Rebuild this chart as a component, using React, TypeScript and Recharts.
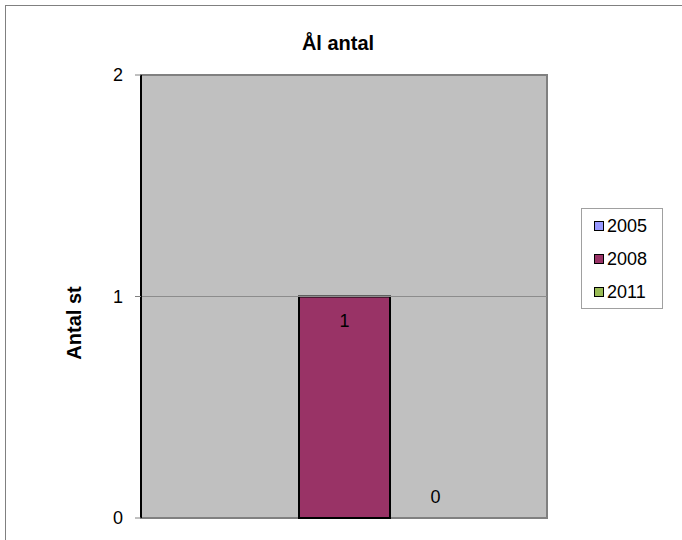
import React from 'react';
import { BarChart, Bar, XAxis, YAxis, ReferenceArea, ReferenceLine, LabelList, Cell } from 'recharts';

const categories = ['Ål'];
const seriesNames = ['2005', '2008', '2011'];
const values2005: (number | null)[] = [null];
const values2008: (number | null)[] = [1];
const values2011: (number | null)[] = [0];
const yTicks = [0, 1, 2];
const seriesColors = ['#9999FF', '#993366', '#99BB55'];
const titleText = 'Ål antal';
const yLabelText = 'Antal st';

const seriesValues = [values2005, values2008, values2011];
const data = categories.map((c, i) => {
  const row: Record<string, any> = { name: c };
  seriesNames.forEach((s, k) => {
    row['s' + s] = seriesValues[k][i];
  });
  return row;
});

const FONT = "'Liberation Sans', Arial, sans-serif";

const renderValueLabel = (props: any) => {
  const { x, y, width, value } = props;
  if (value === null || value === undefined) return null;
  const v = Number(value);
  const cx = Number(x) + Number(width) / 2;
  const cy = v > 0 ? Number(y) + 24 : Number(y) - 21;
  return (
    <text x={cx} y={cy} textAnchor="middle" dominantBaseline="central" fontSize={18} fontFamily={FONT} fill="#000">
      {String(v)}
    </text>
  );
};

const renderYLabel = () => (
  <text
    x={74}
    y={323}
    transform="rotate(-90, 74, 323)"
    textAnchor="middle"
    dominantBaseline="central"
    fontSize={20}
    fontWeight="bold"
    fontFamily={FONT}
    fill="#000"
  >
    {yLabelText}
  </text>
);

const zeroMin = (value: any) => (value === 0 ? 0.01 : 0);

export default function App() {
  return (
    <div style={{ position: 'absolute', left: 0, top: 0, width: 682, height: 540, overflow: 'hidden', background: '#fff', fontFamily: FONT }}>
      <div style={{ position: 'absolute', left: 5, top: 5, width: 720, height: 600, borderLeft: '1px solid #808080', borderTop: '1px solid #808080' }} />
      <div style={{ position: 'absolute', left: 238, top: 31, width: 200, textAlign: 'center', fontSize: 20, fontWeight: 'bold', color: '#000', lineHeight: '24px' }}>
        {titleText}
      </div>
      <div style={{ position: 'absolute', left: 0, top: 0 }}>
        <BarChart
          width={682}
          height={540}
          data={data}
          margin={{ top: 75, right: 135, bottom: 22, left: 0 }}
          barCategoryGap={67}
          barGap={0}
        >
          <ReferenceArea y1={0} y2={2} fill="#C0C0C0" fillOpacity={1} stroke="#808080" strokeWidth={2} ifOverflow="visible" />
          <ReferenceLine y={1} stroke="#8C8C8C" strokeWidth={1} />
          <XAxis dataKey="name" hide />
          <YAxis
            domain={[0, 2]}
            ticks={yTicks}
            interval={0}
            width={141}
            tickSize={6}
            tickMargin={12}
            axisLine={{ stroke: '#000', strokeWidth: 2 }}
            tickLine={{ stroke: '#808080' }}
            tick={{ fill: '#000', fontSize: 18, fontFamily: FONT }}
            label={renderYLabel}
          />
          {seriesNames.map((s, k) => (
            <Bar
              key={s}
              dataKey={'s' + s}
              name={s}
              fill={seriesColors[k]}
              stroke="#000"
              strokeWidth={2}
              minPointSize={zeroMin}
              isAnimationActive={false}
            >
              {data.map((row, i) => (
                <Cell key={i} stroke={row['s' + s] ? '#000' : 'none'} />
              ))}
              <LabelList dataKey={'s' + s} content={renderValueLabel} />
            </Bar>
          ))}
        </BarChart>
      </div>
      <div style={{ position: 'absolute', left: 581, top: 208, width: 80, height: 99, border: '1px solid #A0A0A0', background: '#fff' }}>
        {seriesNames.map((s, k) => (
          <div key={s} style={{ height: 33, display: 'flex', alignItems: 'center', paddingLeft: 12 }}>
            <span style={{ display: 'inline-block', width: 8, height: 8, border: '1px solid #000', background: seriesColors[k], marginRight: 3 }} />
            <span style={{ fontSize: 18, color: '#000', lineHeight: '20px' }}>{s}</span>
          </div>
        ))}
      </div>
    </div>
  );
}
